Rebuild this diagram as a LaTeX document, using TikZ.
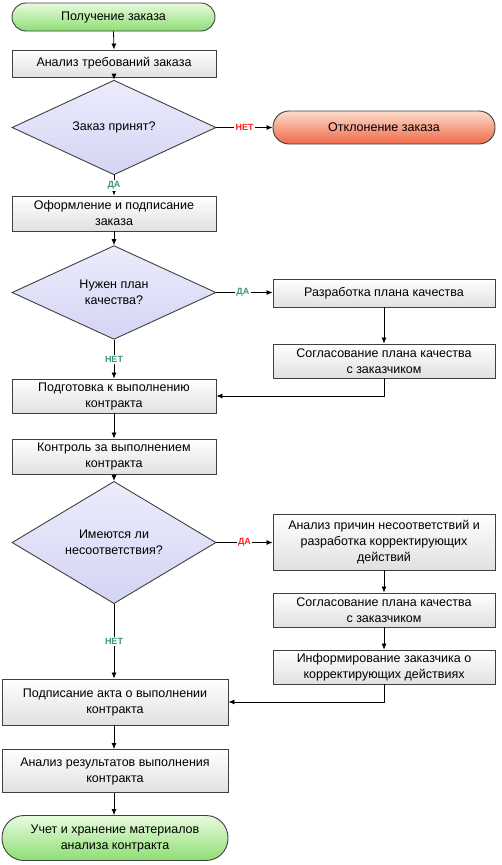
\documentclass[tikz,border=0pt]{standalone}
\usepackage{fontspec}
\setmainfont{Liberation Sans}
\usetikzlibrary{shapes.geometric,arrows.meta}
\definecolor{lblgreen}{HTML}{3C9A6E}
\definecolor{lblred}{HTML}{FF2020}
\definecolor{edge}{HTML}{404040}
\definecolor{greentop}{HTML}{E8FBDE}
\definecolor{greenbot}{HTML}{8EDE74}
\definecolor{redtop}{HTML}{FDDCCC}
\definecolor{redbot}{HTML}{F0694A}
\definecolor{diatop}{HTML}{ECECFC}
\definecolor{diabot}{HTML}{D4D4F4}
\tikzset{
  base/.style={draw=edge, line width=0.9pt, align=center, inner sep=2pt,
    font=\fontsize{12.5}{16}\selectfont, text=black},
  proc/.style={base, rectangle, top color=white, bottom color=black!12},
  term/.style={base, rectangle, rounded corners=14pt},
  greenterm/.style={term, top color=greentop, bottom color=greenbot},
  redterm/.style={term, top color=redtop, bottom color=redbot},
  dia/.style={base, diamond, top color=diatop, bottom color=diabot, inner sep=0pt},
  conn/.style={line width=0.8pt, -{Latex[length=6pt,width=5pt]}},
  yes/.style={fill=white, font=\fontsize{9}{10}\selectfont\bfseries, inner sep=1.5pt},
}
\begin{document}
\begin{tikzpicture}[x=1pt,y=-1pt]
\useasboundingbox (0,0) rectangle (501,865);
\node[greenterm, minimum width=203, minimum height=28] (start) at (113.5,17) {Получение заказа};
\node[proc, minimum width=204, minimum height=27] (a1) at (114,63.5) {Анализ требований заказа};
\node[dia, minimum width=204, minimum height=55] (d1) at (114,127.5) {Заказ принят?};
\node[redterm, minimum width=222, minimum height=33, rounded corners=16pt] (rej) at (384,127.5) {Отклонение заказа};
\node[proc, minimum width=204, minimum height=35] (a2) at (114,213.5) {Оформление и подписание\\заказа};
\node[dia, minimum width=204, minimum height=67] (d2) at (114,292.5) {Нужен план\\качества?};
\node[proc, minimum width=222, minimum height=28] (p1) at (384,293) {Разработка плана качества};
\node[proc, minimum width=222, minimum height=34] (p2) at (384,361) {Согласование плана качества\\с заказчиком};
\node[proc, minimum width=204, minimum height=34] (a3) at (114,396) {Подготовка к выполнению\\контракта};
\node[proc, minimum width=204, minimum height=35] (a4) at (114,456.5) {Контроль за выполнением\\контракта};
\node[dia, minimum width=204, minimum height=67] (d3) at (114,542.5) {Имеются ли\\несоответствия?};
\node[proc, minimum width=222, minimum height=56] (q1) at (384,542) {Анализ причин несоответствий и\\разработка корректирующих\\действий};
\node[proc, minimum width=222, minimum height=34] (q2) at (384,610) {Согласование плана качества\\с заказчиком};
\node[proc, minimum width=222, minimum height=34] (q3) at (384,667) {Информирование заказчика о\\корректирующих действиях};
\node[proc, minimum width=226, minimum height=46] (a5) at (115,702) {Подписание акта о выполнении\\контракта};
\node[proc, minimum width=226, minimum height=43] (a6) at (115,771) {Анализ результатов выполнения\\контракта};
\node[greenterm, minimum width=226, minimum height=45, rounded corners=22pt] (fin) at (115,838) {Учет и хранение материалов\\анализа контракта};

\draw[conn] (start.south) -- (a1.north);
\draw[conn] (a1.south) -- (d1.north);
\draw[conn] (d1.east) -- node[yes, text=lblred] (l1) {НЕТ} (rej.west);
\draw[conn] (d1.south) -- node[yes, text=lblgreen] (l2) {ДА} (a2.north);
\draw[conn] (a2.south) -- (d2.north);
\draw[conn] (d2.east) -- node[yes, text=lblgreen, pos=0.47] (l3) {ДА} (p1.west |- d2.east);
\draw[conn] (p1.south) -- (p2.north);
\draw[conn] (d2.south) -- node[yes, text=lblgreen] (l4) {НЕТ} (a3.north);
\draw[conn] (p2.south) |- (a3.east);
\draw[conn] (a3.south) -- (a4.north);
\draw[conn] (a4.south) -- (d3.north);
\draw[conn] (d3.east) -- node[yes, text=lblred, pos=0.5] (l5) {ДА} (q1.west |- d3.east);
\draw[conn] (q1.south) -- (q2.north);
\draw[conn] (q2.south) -- (q3.north);
\draw[conn] (d3.south) -- node[yes, text=lblgreen] (l6) {НЕТ} (a5.north -| d3.south);
\draw[conn] (q3.south) |- (a5.east);
\draw[conn] (a5.south -| d3.south) -- (a6.north -| d3.south);
\draw[conn] (a6.south -| d3.south) -- (fin.north -| d3.south);
\end{tikzpicture}
\end{document}
